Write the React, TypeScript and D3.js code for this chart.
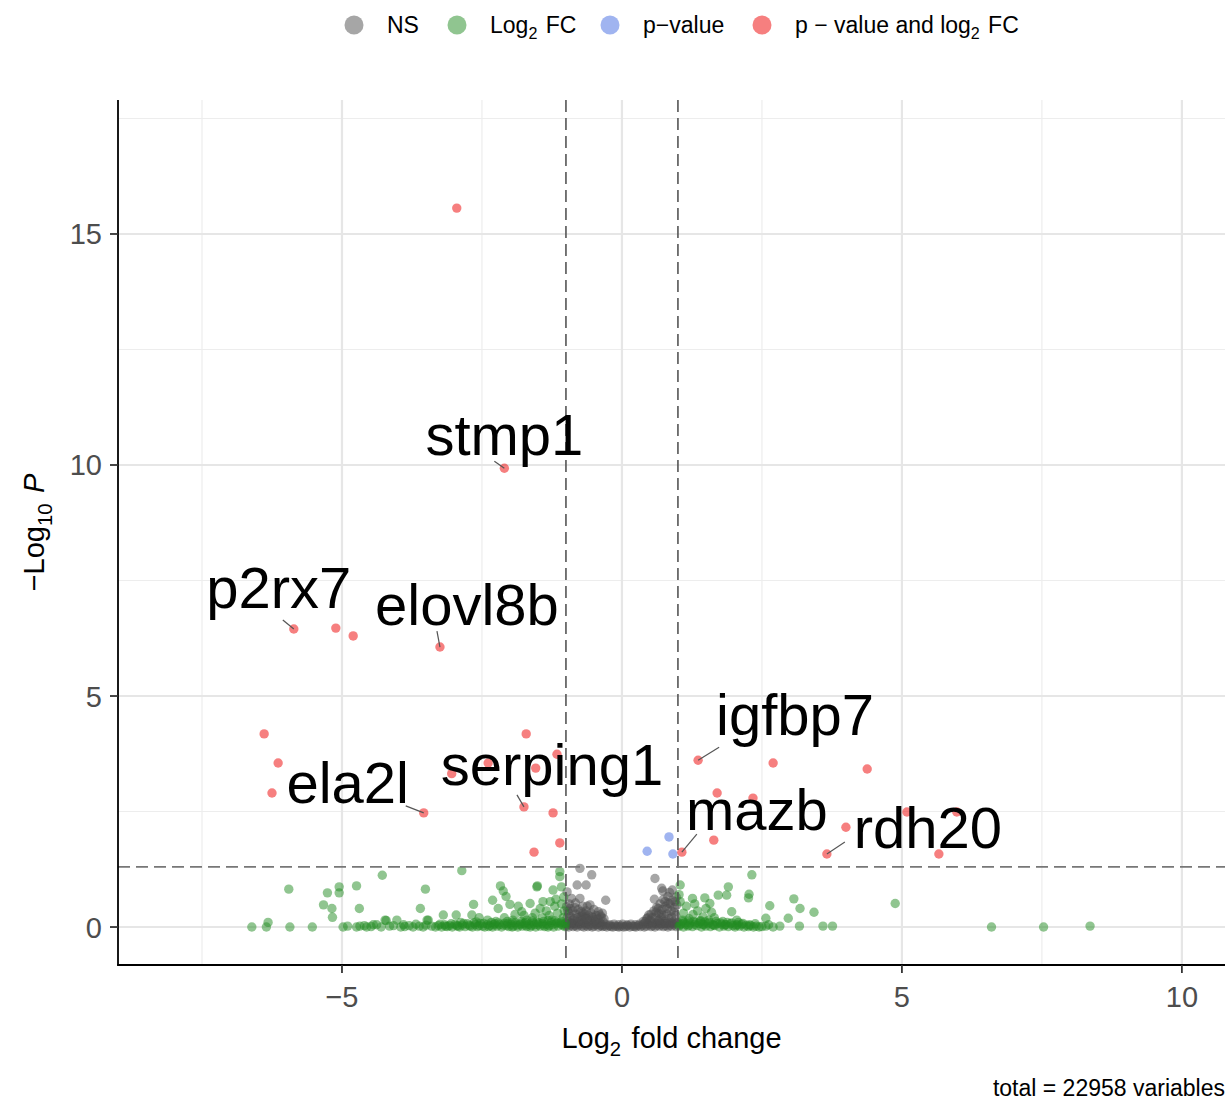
import React from "react";
import * as d3 from "d3";

// ---------- DATA (log2 fold change, -log10 P) ----------
const nsPoints: [number, number][] = [
  // flat band between the fold-change cut-offs
  [-0.99, 0.02], [-0.95, 0.0], [-0.91, 0.04], [-0.87, 0.01], [-0.83, 0.03], [-0.8, 0.0], [-0.76, 0.05],
  [-0.72, 0.02], [-0.68, 0.0], [-0.65, 0.04], [-0.61, 0.01], [-0.57, 0.03], [-0.53, 0.0], [-0.5, 0.02],
  [-0.46, 0.05], [-0.42, 0.0], [-0.38, 0.03], [-0.35, 0.01], [-0.31, 0.02], [-0.27, 0.0], [-0.23, 0.03],
  [-0.2, 0.01], [-0.16, 0.0], [-0.12, 0.02], [-0.08, 0.01], [-0.05, 0.0], [-0.01, 0.02], [0.03, 0.0],
  [0.07, 0.01], [0.1, 0.03], [0.14, 0.0], [0.18, 0.02], [0.22, 0.01], [0.25, 0.0], [0.29, 0.03],
  [0.33, 0.01], [0.37, 0.04], [0.4, 0.0], [0.44, 0.02], [0.48, 0.05], [0.52, 0.01], [0.55, 0.03],
  [0.59, 0.0], [0.63, 0.04], [0.67, 0.02], [0.7, 0.05], [0.74, 0.01], [0.78, 0.03], [0.82, 0.0],
  [0.85, 0.04], [0.89, 0.02], [0.93, 0.05], [0.97, 0.01],
  [-0.97, 0.06], [-0.89, 0.07], [-0.81, 0.06], [-0.74, 0.08], [-0.66, 0.07], [-0.59, 0.06], [-0.51, 0.07],
  [-0.44, 0.06], [-0.36, 0.05], [-0.29, 0.06], [-0.21, 0.05], [-0.14, 0.06], [-0.06, 0.05], [0.01, 0.06],
  [0.09, 0.05], [0.16, 0.06], [0.24, 0.05], [0.31, 0.06], [0.39, 0.07], [0.46, 0.08], [0.54, 0.07],
  [0.61, 0.08], [0.69, 0.09], [0.76, 0.08], [0.84, 0.09], [0.91, 0.08], [0.98, 0.07],
  // left hump
  [-0.98, 0.76], [-0.99, 0.44], [-0.9, 0.62], [-0.75, 0.62], [-0.8, 0.91], [-0.64, 0.91], [-0.75, 1.27],
  [-0.54, 1.13], [-0.29, 0.58], [-0.57, 0.48], [-0.95, 0.3], [-0.92, 0.22], [-0.88, 0.35], [-0.85, 0.18],
  [-0.82, 0.28], [-0.78, 0.38], [-0.75, 0.22], [-0.72, 0.15], [-0.7, 0.3], [-0.67, 0.2], [-0.64, 0.35],
  [-0.6, 0.25], [-0.58, 0.15], [-0.55, 0.3], [-0.52, 0.2], [-0.49, 0.12], [-0.46, 0.25], [-0.43, 0.18],
  [-0.4, 0.1], [-0.37, 0.22], [-0.34, 0.12], [-0.42, 0.33], [-0.96, 0.12], [-0.9, 0.1], [-0.84, 0.42],
  [-0.68, 0.1], [-0.62, 0.45], [-0.98, 0.2], [-0.94, 0.5], [-0.86, 0.08], [-0.78, 0.12], [-0.7, 0.45],
  [-0.5, 0.38], [-0.35, 0.3], [-0.93, 0.4], [-0.88, 0.15], [-0.8, 0.2], [-0.73, 0.33], [-0.66, 0.27],
  [-0.6, 0.13], [-0.54, 0.22], [-0.47, 0.16], [-0.97, 0.35], [-0.83, 0.52], [-0.71, 0.24], [-0.63, 0.18],
  [-0.32, 0.18], [-0.39, 0.26],
  // right hump
  [0.59, 1.05], [0.71, 0.84], [0.9, 0.8], [0.42, 0.12], [0.46, 0.2], [0.5, 0.15], [0.52, 0.28],
  [0.55, 0.1], [0.57, 0.35], [0.6, 0.22], [0.62, 0.42], [0.64, 0.13], [0.66, 0.3], [0.68, 0.5],
  [0.7, 0.2], [0.72, 0.38], [0.74, 0.6], [0.76, 0.12], [0.78, 0.45], [0.8, 0.28], [0.82, 0.66],
  [0.84, 0.18], [0.86, 0.5], [0.88, 0.35], [0.9, 0.58], [0.92, 0.12], [0.94, 0.42], [0.96, 0.25],
  [0.98, 0.48], [0.97, 0.65], [0.85, 0.75], [0.73, 0.78], [0.58, 0.6], [0.99, 0.1], [0.87, 0.1],
  [0.79, 0.08], [0.69, 0.08], [0.48, 0.26], [0.54, 0.2], [0.61, 0.32], [0.67, 0.15], [0.71, 0.28],
  [0.75, 0.25], [0.81, 0.4], [0.83, 0.52], [0.89, 0.22], [0.93, 0.32], [0.95, 0.55], [0.77, 0.55],
  [0.65, 0.4], [0.44, 0.18], [0.38, 0.12],
];

const fcPoints: [number, number][] = [
  // left band
  [-6.61, 0.0], [-6.35, 0.0], [-6.32, 0.1], [-5.93, 0.0], [-5.53, 0.0], [-4.98, 0.0], [-4.9, 0.02],
  [-4.74, 0.0], [-4.6, 0.03], [-4.56, 0.0], [-4.44, 0.05], [-4.38, 0.05], [-4.3, 0.0], [-4.21, 0.14],
  [-4.15, 0.02], [-4.02, 0.15], [-3.95, 0.0], [-3.88, 0.01], [-3.8, 0.03], [-3.73, 0.0], [-3.62, 0.02],
  [-3.55, 0.0], [-3.46, 0.15], [-3.4, 0.02], [-3.33, 0.0],
  [-3.28, 0.03], [-3.22, 0.0], [-3.17, 0.05], [-3.12, 0.01], [-3.08, 0.03], [-3.03, 0.0], [-2.98, 0.06],
  [-2.93, 0.02], [-2.9, 0.0], [-2.85, 0.04], [-2.8, 0.01], [-2.76, 0.07], [-2.71, 0.02], [-2.67, 0.0],
  [-2.62, 0.05], [-2.58, 0.01], [-2.53, 0.08], [-2.49, 0.02], [-2.45, 0.0], [-2.4, 0.06], [-2.36, 0.03],
  [-2.31, 0.0], [-2.27, 0.07], [-2.23, 0.02], [-2.19, 0.05], [-2.15, 0.0], [-2.1, 0.08], [-2.06, 0.03],
  [-2.02, 0.01], [-1.98, 0.06], [-1.94, 0.02], [-1.9, 0.09], [-1.86, 0.0], [-1.82, 0.05], [-1.78, 0.02],
  [-1.74, 0.08], [-1.7, 0.01], [-1.66, 0.06], [-1.62, 0.03], [-1.58, 0.09], [-1.54, 0.0], [-1.5, 0.05],
  [-1.46, 0.02], [-1.42, 0.08], [-1.38, 0.01], [-1.34, 0.06], [-1.3, 0.03], [-1.26, 0.1], [-1.22, 0.0],
  [-1.18, 0.07], [-1.14, 0.02], [-1.1, 0.09], [-1.06, 0.04], [-1.02, 0.01],
  [-3.25, 0.06], [-3.15, 0.02], [-3.05, 0.07], [-2.95, 0.03], [-2.83, 0.08], [-2.73, 0.04], [-2.64, 0.09],
  [-2.55, 0.03], [-2.47, 0.08], [-2.38, 0.01], [-2.29, 0.05], [-2.21, 0.09], [-2.12, 0.04], [-2.04, 0.07],
  [-1.96, 0.0], [-1.88, 0.04], [-1.8, 0.08], [-1.72, 0.04], [-1.64, 0.0], [-1.56, 0.05], [-1.48, 0.09],
  [-1.4, 0.04], [-1.32, 0.0], [-1.24, 0.05], [-1.16, 0.1], [-1.08, 0.06], [-1.01, 0.08],
  [-2.88, 0.1], [-2.6, 0.11], [-2.33, 0.1], [-2.05, 0.12], [-1.8, 0.12], [-1.6, 0.13], [-1.4, 0.12],
  [-1.2, 0.13], [-1.08, 0.12], [-1.32, 0.14], [-1.52, 0.11], [-1.72, 0.1], [-1.96, 0.1],
  [-3.9, 0.05], [-3.68, 0.06], [-3.5, 0.04], [-4.08, 0.03], [-4.48, 0.01], [-4.68, 0.02],
  // left scatter
  [-5.95, 0.82], [-5.33, 0.48], [-5.26, 0.74], [-5.18, 0.4], [-5.17, 0.21], [-5.05, 0.87], [-5.05, 0.74],
  [-4.74, 0.89], [-4.69, 0.4], [-4.28, 1.12], [-3.51, 0.82], [-3.6, 0.4], [-3.19, 0.26], [-2.96, 0.26],
  [-3.48, 0.15], [-4.23, 0.15], [-2.86, 1.22], [-2.65, 0.49], [-2.68, 0.26], [-2.31, 0.58], [-2.17, 0.89],
  [-2.12, 0.78], [-2.07, 0.66], [-2.21, 0.4], [-2.0, 0.49], [-1.51, 0.89], [-1.64, 0.51], [-1.79, 0.33],
  [-1.91, 0.27], [-1.41, 0.55], [-1.46, 0.4], [-1.11, 1.2], [-1.11, 1.09], [-1.52, 0.87], [-1.23, 0.8],
  [-1.08, 0.87], [-1.2, 0.45], [-1.15, 0.3], [-1.3, 0.25], [-1.05, 0.2], [-1.25, 0.15], [-1.35, 0.35],
  [-1.6, 0.2], [-1.7, 0.15], [-1.85, 0.45], [-2.4, 0.15], [-2.55, 0.2], [-1.95, 0.15], [-1.08, 0.5],
  [-1.03, 0.35], [-1.18, 0.6], [-1.28, 0.55], [-1.42, 0.2], [-1.55, 0.3], [-2.1, 0.2], [-2.25, 0.12],
  [-1.75, 0.25], [-1.04, 0.65],
  // right band
  [1.02, 0.02], [1.06, 0.07], [1.1, 0.0], [1.14, 0.05], [1.18, 0.02], [1.22, 0.09], [1.26, 0.01],
  [1.3, 0.06], [1.34, 0.03], [1.38, 0.08], [1.42, 0.0], [1.46, 0.05], [1.5, 0.02], [1.54, 0.07],
  [1.58, 0.01], [1.62, 0.05], [1.66, 0.03], [1.7, 0.08], [1.74, 0.0], [1.78, 0.06], [1.82, 0.02],
  [1.86, 0.05], [1.9, 0.01], [1.94, 0.07], [1.98, 0.03], [2.02, 0.0], [2.06, 0.05], [2.1, 0.02],
  [2.14, 0.06], [2.18, 0.0], [2.22, 0.04], [2.26, 0.01], [2.3, 0.03], [2.35, 0.0], [2.4, 0.02],
  [2.45, 0.0], [2.5, 0.01], [1.08, 0.12], [1.28, 0.12], [1.48, 0.11], [1.68, 0.12], [1.88, 0.1],
  [2.08, 0.1], [1.18, 0.13], [1.4, 0.14],
  [1.04, 0.05], [1.12, 0.09], [1.2, 0.04], [1.32, 0.1], [1.44, 0.06], [1.56, 0.1], [1.64, 0.04],
  [1.76, 0.09], [1.84, 0.05], [1.96, 0.09], [2.04, 0.04], [2.16, 0.08], [2.28, 0.05], [2.38, 0.07],
  [2.57, 0.02], [2.62, 0.05], [2.7, 0.0], [2.82, 0.02], [3.17, 0.02], [3.59, 0.02], [3.76, 0.02],
  // right scatter
  [1.04, 0.91], [1.04, 0.55], [1.26, 0.62], [1.48, 0.63], [1.57, 0.51], [1.6, 0.32], [1.72, 0.69],
  [1.87, 0.69], [1.9, 0.87], [2.27, 0.71], [2.26, 0.63], [2.32, 1.13], [1.96, 0.33], [2.05, 0.15],
  [1.27, 0.27], [1.45, 0.22], [2.57, 0.19], [2.64, 0.46], [2.97, 0.19], [3.07, 0.61], [3.18, 0.4],
  [3.43, 0.32], [4.88, 0.51], [6.6, 0.0], [7.53, 0.0], [8.36, 0.02], [1.1, 0.3], [1.15, 0.45],
  [1.2, 0.18], [1.35, 0.35], [1.4, 0.12], [1.55, 0.15], [1.65, 0.2], [1.8, 0.12], [1.08, 0.15],
  [1.02, 0.7], [1.3, 0.5], [1.5, 0.4],
];

const pPoints: [number, number][] = [
  [0.84, 1.95], [0.45, 1.64], [0.91, 1.58],
];

const bothPoints: [number, number][] = [
  [-2.95, 15.56], [-2.1, 9.93], [-5.86, 6.45], [-5.11, 6.47], [-4.8, 6.3], [-3.25, 6.06],
  [-6.39, 4.18], [-6.14, 3.55], [-6.25, 2.9], [-3.54, 2.47], [-1.71, 4.18], [-1.16, 3.74],
  [-1.54, 3.44], [-3.04, 3.32], [-2.39, 3.55], [-1.75, 2.6], [-1.23, 2.47], [-1.11, 1.82],
  [-1.57, 1.62], [1.36, 3.61], [2.7, 3.55], [4.38, 3.42], [1.7, 2.9], [2.34, 2.79], [5.09, 2.49],
  [5.98, 2.49], [4.0, 2.16], [1.64, 1.88], [1.07, 1.62], [3.66, 1.58], [5.66, 1.58],
];

const geneNames = ["stmp1", "p2rx7", "elovl8b", "ela2l", "serping1", "igfbp7", "mazb", "rdh20"];
const geneValues: [number, number][] = [
  [-2.1, 9.93], [-5.86, 6.45], [-3.25, 6.06], [-3.54, 2.47], [-1.75, 2.6], [1.36, 3.61], [1.07, 1.62], [3.66, 1.58],
];
// repelled label placement (pixel offsets of text centre/baseline from point) and connector ends
const labelOffsets: [number, number][] = [
  [0, -13], [-15, -21], [27, -22], [-76, -10], [28, -22], [97, -25], [75, -22], [101, -6],
];
const connectorOffsets: [number, number][] = [
  [-10, -7], [-11, -9], [-3, -16], [-18, -7], [-7, -12], [21, -13], [15, -18], [18, -12],
];

const xMajorTicks = [-5, 0, 5, 10];
const xMinorTicks = [-7.5, -2.5, 2.5, 7.5];
const yMajorTicks = [0, 5, 10, 15];
const yMinorTicks = [2.5, 7.5, 12.5, 17.5];

const FC_CUTOFF = 1;
const P_CUTOFF = 0.05;
const TOTAL = 22958;

const legendLabels = ["NS", "Log2 FC", "p-value", "p - value and log2 FC"];
const legendColors = ["#4D4D4D", "#228B22", "#4169E1", "#EE0000"];
const legendX = [354, 457, 610, 762];

// ---------- LAYOUT ----------
const W = 1229;
const H = 1105;
const PANEL = { left: 118, right: 1225, top: 100, bottom: 965 };
const FONT = "'Liberation Sans', Arial, Helvetica, sans-serif";

const x = d3.scaleLinear().domain([-9, 10.77]).range([PANEL.left, PANEL.right]);
const y = d3.scaleLinear().domain([-0.822, 17.9]).range([PANEL.bottom, PANEL.top]);

const R = 4.7;
const ALPHA = 0.5;

function Sub({ children, size }: { children: string; size: number }) {
  return (
    <>
      <tspan dy={size * 0.28} fontSize={size * 0.7}>{children}</tspan>
      <tspan dy={-size * 0.28}>{"\u200A"}</tspan>
    </>
  );
}

function LegendText({ i, size }: { i: number; size: number }) {
  if (i === 0) return <>NS</>;
  if (i === 1)
    return (
      <>
        <tspan>Log</tspan>
        <Sub size={size}>2</Sub>
        <tspan> FC</tspan>
      </>
    );
  if (i === 2) return <>p{"\u2212"}value</>;
  return (
    <>
      <tspan>p {"\u2212"} value and log</tspan>
      <Sub size={size}>2</Sub>
      <tspan> FC</tspan>
    </>
  );
}

export default function App() {
  const pLine = -Math.log10(P_CUTOFF);
  const layers: { pts: [number, number][]; color: string }[] = [
    { pts: nsPoints, color: legendColors[0] },
    { pts: fcPoints, color: legendColors[1] },
    { pts: pPoints, color: legendColors[2] },
    { pts: bothPoints, color: legendColors[3] },
  ];
  const dash = "12,6";
  return (
    <svg
      width={W}
      height={H}
      style={{ position: "absolute", left: 0, top: 0, display: "block", background: "#fff" }}
      fontFamily={FONT}
    >
      <rect x={0} y={0} width={W} height={H} fill="#fff" />
      {/* grid */}
      {xMinorTicks.map((t) => (
        <line key={"xm" + t} x1={x(t)} x2={x(t)} y1={PANEL.top} y2={PANEL.bottom} stroke="#EDEDED" strokeWidth={1.2} />
      ))}
      {yMinorTicks.map((t) => (
        <line key={"ym" + t} y1={y(t)} y2={y(t)} x1={PANEL.left} x2={PANEL.right} stroke="#EDEDED" strokeWidth={1.2} />
      ))}
      {xMajorTicks.map((t) => (
        <line key={"xM" + t} x1={x(t)} x2={x(t)} y1={PANEL.top} y2={PANEL.bottom} stroke="#E6E6E6" strokeWidth={2.2} />
      ))}
      {yMajorTicks.map((t) => (
        <line key={"yM" + t} y1={y(t)} y2={y(t)} x1={PANEL.left} x2={PANEL.right} stroke="#E6E6E6" strokeWidth={2.2} />
      ))}

      {/* points */}
      {layers.map((layer, li) =>
        layer.pts.map((p, i) => (
          <circle key={li + "-" + i} cx={x(p[0])} cy={y(p[1])} r={R} fill={layer.color} fillOpacity={ALPHA} />
        ))
      )}

      {/* cut-off lines */}
      {[-FC_CUTOFF, FC_CUTOFF].map((v) => (
        <line key={"v" + v} x1={x(v)} x2={x(v)} y1={PANEL.top} y2={PANEL.bottom} stroke="#555" strokeWidth={1.6} strokeDasharray={dash} />
      ))}
      <line x1={PANEL.left} x2={PANEL.right} y1={y(pLine)} y2={y(pLine)} stroke="#777" strokeWidth={1.8} strokeDasharray={dash} />

      {/* labels */}
      {geneNames.map((g, i) => {
        const px = x(geneValues[i][0]);
        const py = y(geneValues[i][1]);
        return (
          <g key={g}>
            <line
              x1={px}
              y1={py}
              x2={px + connectorOffsets[i][0]}
              y2={py + connectorOffsets[i][1]}
              stroke="#555"
              strokeWidth={1.2}
            />
            <text
              x={px + labelOffsets[i][0]}
              y={py + labelOffsets[i][1]}
              textAnchor="middle"
              fontSize={58}
              fill="#000"
            >
              {g}
            </text>
          </g>
        );
      })}

      {/* axes */}
      <line x1={PANEL.left} x2={PANEL.left} y1={PANEL.top} y2={PANEL.bottom + 0.8} stroke="#000" strokeWidth={1.8} />
      <line x1={PANEL.left - 0.8} x2={PANEL.right} y1={PANEL.bottom} y2={PANEL.bottom} stroke="#000" strokeWidth={1.8} />
      {xMajorTicks.map((t) => (
        <g key={"xt" + t}>
          <line x1={x(t)} x2={x(t)} y1={PANEL.bottom} y2={PANEL.bottom + 8} stroke="#333" strokeWidth={1.8} />
          <text x={x(t)} y={PANEL.bottom + 42} textAnchor="middle" fontSize={29} fill="#4D4D4D">
            {t < 0 ? "\u2212" + Math.abs(t) : String(t)}
          </text>
        </g>
      ))}
      {yMajorTicks.map((t) => (
        <g key={"yt" + t}>
          <line x1={PANEL.left - 8} x2={PANEL.left} y1={y(t)} y2={y(t)} stroke="#333" strokeWidth={1.8} />
          <text x={PANEL.left - 16} y={y(t) + 10.5} textAnchor="end" fontSize={29} fill="#4D4D4D">
            {String(t)}
          </text>
        </g>
      ))}

      {/* axis titles */}
      <text x={(PANEL.left + PANEL.right) / 2} y={1048} textAnchor="middle" fontSize={29} fill="#000">
        <tspan>Log</tspan>
        <Sub size={29}>2</Sub>
        <tspan> fold change</tspan>
      </text>
      <text
        transform={`translate(44, ${(PANEL.top + PANEL.bottom) / 2}) rotate(-90)`}
        textAnchor="middle"
        fontSize={29}
        fill="#000"
      >
        <tspan>{"\u2212"}Log</tspan>
        <Sub size={29}>10</Sub>
        <tspan> </tspan>
        <tspan fontStyle="italic">P</tspan>
      </text>

      {/* legend */}
      {legendLabels.map((l, i) => (
        <g key={l}>
          <circle cx={legendX[i]} cy={25} r={9.5} fill={legendColors[i]} fillOpacity={ALPHA} />
          <text x={legendX[i] + 33} y={33} fontSize={23} fill="#000">
            <LegendText i={i} size={23} />
          </text>
        </g>
      ))}

      {/* caption */}
      <text x={1225} y={1096} textAnchor="end" fontSize={23} fill="#000">
        total = {TOTAL} variables
      </text>
    </svg>
  );
}
